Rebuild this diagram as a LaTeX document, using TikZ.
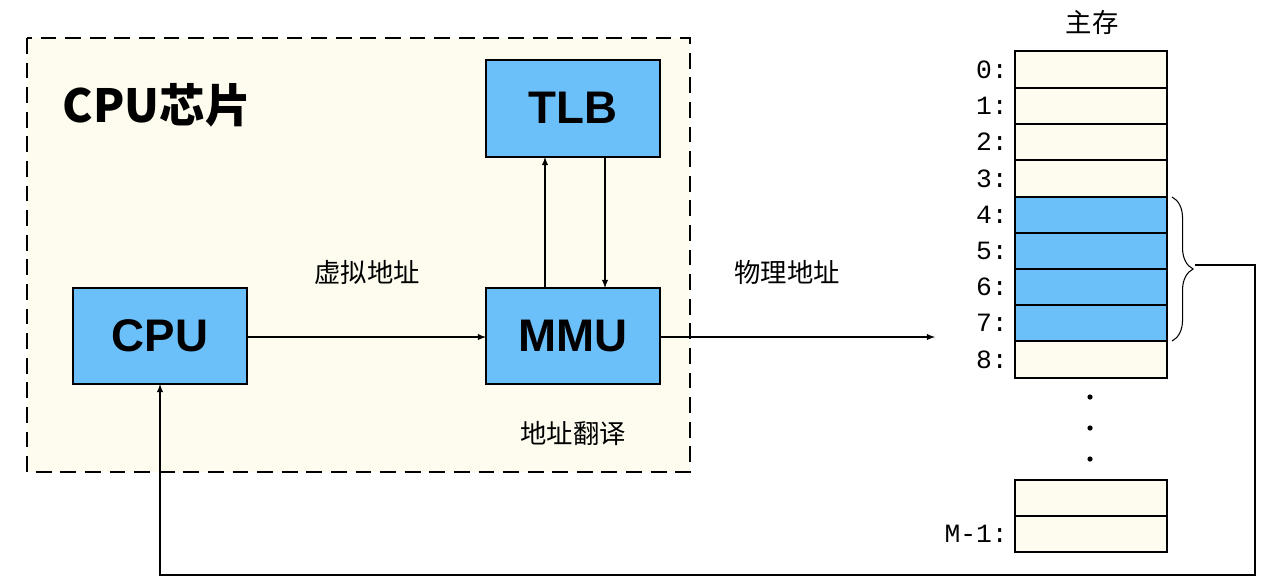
\documentclass[tikz,border=0pt]{standalone}
\usepackage{fontspec}
\setmainfont{Liberation Mono}
\newfontfamily\cjk{Noto Sans CJK SC}
\newfontfamily\hd{Liberation Sans}
\usetikzlibrary{decorations.pathreplacing}
\definecolor{cream}{HTML}{FDFCEE}
\definecolor{blu}{HTML}{6CC0FA}
\begin{document}
\begin{tikzpicture}[x=0.02cm,y=-0.02cm,
 box/.style={draw,fill=blu,line width=0.6pt},
 cell/.style={draw,fill=cream,line width=0.6pt},
 bcell/.style={draw,fill=blu,line width=0.6pt},
 big/.style={font=\hd\bfseries\fontsize{26}{26}\selectfont},
 lab/.style={font=\fontsize{15}{15}\selectfont,anchor=east},
 zh/.style={font=\cjk\fontsize{15}{15}\selectfont},
 arr/.style={-latex,line width=0.6pt}]
\useasboundingbox (0,0) rectangle (1280,576);
\draw[dashed,line width=1.3pt,fill=cream,dash pattern=on 9pt off 5pt] (27,38) rectangle (690,472);
\node[font=\cjk\bfseries\fontsize{26}{26}\selectfont] (chip) at (157,105) {CPU芯片};
\draw[box] (486,60) rectangle (660,157); \node[big] (tlb) at (573,108) {TLB};
\draw[box] (73,288) rectangle (247,384); \node[big] (cpu) at (160,336) {CPU};
\draw[box] (486,288) rectangle (660,384); \node[big] (mmu) at (573,336) {MMU};
\coordinate (cpuR) at (247,337); \coordinate (mmuL) at (486,337);
\draw[arr] (cpuR) -- (mmuL);
\draw[arr] (545,288) -- (545,157);
\draw[arr] (605,157) -- (605,288);
\node[zh] (va) at (367,272) {虚拟地址};
\node[zh] (pa) at (787,272) {物理地址};
\node[zh] (tr) at (573,433) {地址翻译};
\coordinate (memin) at (935,337);
\draw[arr] (660,337) -- (memin);
\node[zh] (ms) at (1092,22) {主存};
\foreach \i/\a/\b in {0/51/88,1/88/124,2/124/160,3/160/197,8/341/378}{
 \draw[cell] (1015,\a) rectangle (1167,\b);
 \node[lab] at (1014,{(\a+\b)/2}) {\i:};}
\foreach \i/\a/\b in {4/197/233,5/233/269,6/269/305,7/305/341}{
 \draw[bcell] (1015,\a) rectangle (1167,\b);
 \node[lab] at (1014,{(\a+\b)/2}) {\i:};}
\foreach \y in {397,428,459} \fill (1090,\y) circle (2.6);
\draw[cell] (1015,480) rectangle (1167,516);
\draw[cell] (1015,516) rectangle (1167,552);
\node[lab] at (1014,534) {M-1:};
\draw[decorate,decoration={brace,amplitude=12pt},line width=0.6pt] (1172,197) -- (1172,341);
\coordinate (bt) at (1195,265);
\draw[arr] (bt) -- (1255,265) -- (1255,575) -- (160,575) -- (160,384);
\end{tikzpicture}
\end{document}
